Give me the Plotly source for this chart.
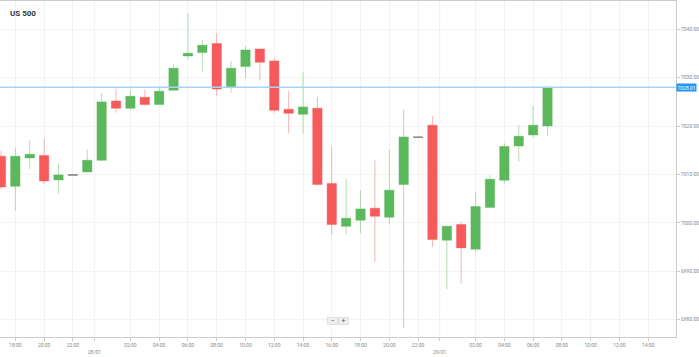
import pandas as pd
import plotly.graph_objects as go

# ---- data (hourly candles, US 500) ----
start_time = "2026-01-27 17:00"
open_ = [7013.76, 7007.56, 7013.42, 7013.90, 7008.87, 7009.90, 7010.52,
         7012.93, 7025.19, 7023.68, 7025.95, 7024.44, 7027.40, 7034.49, 7035.18,
         7037.04, 7027.95, 7032.29, 7035.94, 7033.46, 7023.47, 7022.44, 7023.68,
         7008.11, 6999.30, 7000.54, 7003.02, 7001.16, 7007.91, 7017.69, 7020.17,
         6996.41, 6999.64, 6994.54, 7003.15, 7008.80, 7015.90, 7018.17, 7020.03]
high = [7014.86, 7015.55, 7017.13, 7017.48, 7012.18, 7009.90, 7015.20,
        7026.78, 7027.74, 7027.53, 7027.53, 7027.88, 7032.77, 7043.31, 7037.80,
        7039.17, 7033.46, 7036.49, 7035.94, 7034.00, 7027.26, 7031.18, 7026.02,
        7015.76, 7009.15, 7006.74, 7012.93, 7015.21, 7023.47, 7017.69, 7022.09,
        6999.30, 7000.19, 7006.47, 7009.90, 7016.45, 7020.23, 7024.16, 7028.01]
low = [7006.94, 7002.47, 7011.07, 7007.97, 7006.05, 7009.90, 7010.52,
       7012.80, 7022.78, 7023.33, 7024.23, 7024.44, 7027.40, 7033.66, 7031.25,
       7026.23, 7026.85, 7029.95, 7029.40, 7022.70, 7018.51, 7018.44, 7007.77,
       6997.44, 6997.71, 6997.85, 6991.93, 6999.78, 6978.22, 7017.69, 6995.03,
       6986.30, 6987.45, 6993.86, 7003.15, 7008.11, 7012.66, 7017.62, 7017.96]
close = [7007.42, 7013.76, 7014.17, 7008.66, 7009.90, 7009.90, 7012.93,
         7024.99, 7023.68, 7026.16, 7024.44, 7027.19, 7031.94, 7035.04, 7036.69,
         7027.67, 7031.94, 7035.73, 7033.18, 7023.26, 7022.64, 7023.95, 7007.91,
         6999.64, 7000.95, 7002.88, 7001.36, 7006.74, 7017.75, 7017.69, 6996.54,
         6999.30, 6994.82, 7003.36, 7009.00, 7015.76, 7017.89, 7020.17, 7028.01]
last_price = 7028.01
price_ticks = [6980, 6990, 7000, 7010, 7020, 7030, 7040]
hour_ticks = ["2026-01-27 18:00", "2026-01-27 20:00", "2026-01-27 22:00",
              "2026-01-28 02:00", "2026-01-28 04:00", "2026-01-28 06:00",
              "2026-01-28 08:00", "2026-01-28 10:00", "2026-01-28 12:00",
              "2026-01-28 14:00", "2026-01-28 16:00", "2026-01-28 18:00",
              "2026-01-28 20:00", "2026-01-28 22:00", "2026-01-29 02:00",
              "2026-01-29 04:00", "2026-01-29 06:00", "2026-01-29 08:00",
              "2026-01-29 10:00", "2026-01-29 12:00", "2026-01-29 14:00"]
day_marks = ["2026-01-27 23:30", "2026-01-28 23:30"]
day_labels = ["28/01", "29/01"]
x_range = ["2026-01-27 16:56", "2026-01-29 15:56"]
y_range = [6976.4, 7045.85]

times = pd.date_range(start_time, periods=len(open_), freq="h")

GREEN = "#5cb85c"
RED = "#f65a5a"

norm = [i for i in range(len(open_)) if open_[i] != close[i]]
doji = [i for i in range(len(open_)) if open_[i] == close[i]]

fig = go.Figure()
fig.add_trace(go.Candlestick(
    x=[times[i] for i in norm],
    open=[open_[i] for i in norm], high=[high[i] for i in norm],
    low=[low[i] for i in norm], close=[close[i] for i in norm],
    increasing=dict(fillcolor=GREEN, line=dict(color="rgba(92,184,92,0.45)", width=1)),
    decreasing=dict(fillcolor=RED, line=dict(color="rgba(246,90,90,0.45)", width=1)),
    hoverinfo="skip", showlegend=False))
fig.add_trace(go.Candlestick(
    x=[times[i] for i in doji],
    open=[open_[i] for i in doji], high=[high[i] for i in doji],
    low=[low[i] for i in doji], close=[close[i] for i in doji],
    increasing=dict(fillcolor="#888888", line=dict(color="#888888", width=1)),
    decreasing=dict(fillcolor="#888888", line=dict(color="#888888", width=1)),
    hoverinfo="skip", showlegend=False))

tickvals = [pd.Timestamp(t) for t in hour_ticks] + [pd.Timestamp(t) for t in day_marks]
ticktext = [pd.Timestamp(t).strftime("%H:%M") for t in hour_ticks] + ["<br>" + d for d in day_labels]

shapes = []
for d in day_marks:
    shapes.append(dict(type="line", xref="x", yref="paper", x0=d, x1=d, y0=0, y1=1,
                       line=dict(color="#e2e2e2", width=1), layer="below"))
shapes.append(dict(type="line", xref="paper", yref="y", x0=0, x1=1, y0=last_price, y1=last_price,
                   line=dict(color="#a9d3f3", width=1.5)))

annotations = [
    dict(text="<b>US 500</b>", xref="paper", yref="paper", x=0.012, y=0.964,
         xanchor="left", yanchor="middle", showarrow=False,
         font=dict(family="Roboto", size=8, color="#333333")),
    dict(text=f"{last_price:.2f}", xref="paper", yref="y", x=1.0, y=last_price,
         xanchor="left", yanchor="middle", showarrow=False, bgcolor="#2196f3",
         borderpad=0.5, font=dict(family="Roboto", size=5, color="white")),
    dict(text="−", xref="paper", yref="paper", x=0.4915, y=0.048, xanchor="center",
         yanchor="middle", showarrow=False, bgcolor="#eeeeee", bordercolor="#e0e0e0",
         borderpad=0, width=9, height=6, font=dict(family="Roboto", size=7, color="#555")),
    dict(text="+", xref="paper", yref="paper", x=0.5075, y=0.048, xanchor="center",
         yanchor="middle", showarrow=False, bgcolor="#eeeeee", bordercolor="#e0e0e0",
         borderpad=0, width=9, height=6, font=dict(family="Roboto", size=7, color="#555")),
]

fig.update_layout(
    width=699, height=357,
    margin=dict(l=0, r=23, t=1, b=20),
    paper_bgcolor="white", plot_bgcolor="white",
    boxgap=0.35, boxgroupgap=0,
    showlegend=False,
    font=dict(family="Roboto", size=5, color="#888888"),
    shapes=shapes, annotations=annotations,
    xaxis=dict(type="date", range=x_range, rangeslider=dict(visible=False),
               tickvals=tickvals, ticktext=ticktext, tickangle=0,
               showgrid=True, gridcolor="#f3f3f3", gridwidth=1,
               showline=True, linecolor="#cccccc", mirror=True,
               ticks="outside", ticklen=3, tickcolor="#cccccc",
               tickfont=dict(size=5, color="#888888"), zeroline=False),
    yaxis=dict(side="right", range=y_range, tickvals=price_ticks, tickformat=".2f",
               showgrid=True, gridcolor="#f3f3f3", gridwidth=1,
               showline=True, linecolor="#cccccc", mirror=True,
               ticks="outside", ticklen=3, tickcolor="#cccccc",
               tickfont=dict(size=5, color="#888888"), zeroline=False),
)

fig.write_html("out.html", config={"displayModeBar": False},
               post_script="document.body.style.margin='0';document.body.style.overflow='hidden';")
